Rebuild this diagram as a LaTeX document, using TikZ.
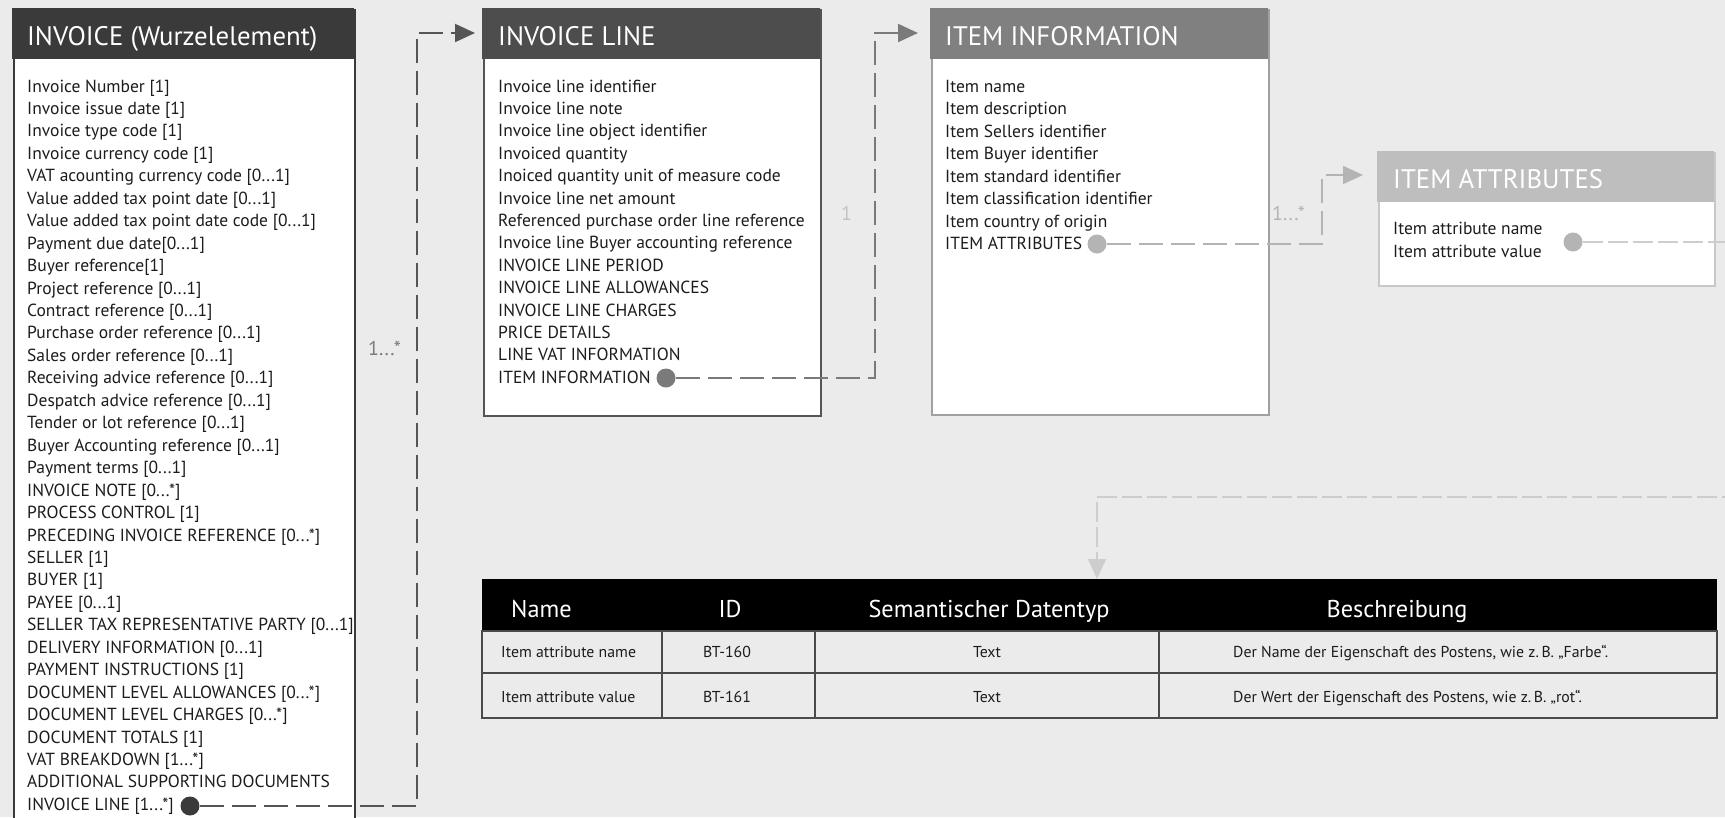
\documentclass[tikz,border=0pt]{standalone}
\usepackage{fontspec}
\setmainfont{PT Sans}
\usetikzlibrary{arrows.meta,calc}

\definecolor{bg}{HTML}{EBEBEB}
\definecolor{txt}{HTML}{1C1C1C}
\definecolor{hdA}{HTML}{3A3A3A}
\definecolor{hdB}{HTML}{4D4D4D}
\definecolor{hdC}{HTML}{808080}
\definecolor{hdD}{HTML}{BEBEBE}
\definecolor{lnA}{HTML}{555555}
\definecolor{lnB}{HTML}{7A7A7A}
\definecolor{lnC}{HTML}{B4B4B4}
\definecolor{lnD}{HTML}{CDCDCD}
\definecolor{grid}{HTML}{4A4A4A}

% three dots for multiplicities inside \foreach lists
\newcommand{\dts}{...}

\tikzset{
  panel/.style={draw, fill=white, line width=2pt, anchor=north west, inner sep=0pt},
  headbar/.style={anchor=north west, inner sep=0pt, minimum height=51pt},
  title/.style={anchor=base west, inner sep=0pt, text=white,
                font=\fontsize{26.8}{27}\selectfont},
  entry/.style={anchor=base west, inner sep=0pt, text=txt,
                font=\fontsize{17.5}{18}\selectfont},
  dot/.style={circle, inner sep=0pt, minimum size=19pt},
  link/.style={dash pattern=on 24pt off 8pt, line width=2pt},
  tip/.style={-{Triangle[length=20pt,width=18pt]}},
  mult/.style={anchor=base west, inner sep=0pt, font=\fontsize{20}{20}\selectfont},
  colhead/.style={anchor=base, inner sep=0pt, text=white,
                  font=\fontsize{24.3}{24}\selectfont},
  cell/.style={anchor=base, inner sep=0pt, text=txt,
               font=\fontsize{15.8}{16}\selectfont},
  grid/.style={draw=grid, line width=1.5pt}
}

\begin{document}
\begin{tikzpicture}[x=1pt,y=-1pt]
\useasboundingbox (0,0) rectangle (1725,817);
\clip (0,0) rectangle (1725,817);
\fill[bg] (0,0) rectangle (1725,817);

% ---------- INVOICE (root) ----------
\node[panel, draw=hdA, minimum width=341pt, minimum height=840pt] (inv) at (13,9) {};
\node[headbar, fill=hdA, minimum width=342pt] (invh) at (12,8) {};
\node[title] (invt) at (27,45) {INVOICE (Wurzelelement)};
\foreach \t [count=\i from 0] in {
  Invoice Number [1], Invoice issue date [1], Invoice type code [1],
  Invoice currency code [1], VAT acounting currency code [0\dts1],
  Value added tax point date [0\dts1], Value added tax point date code [0\dts1],
  Payment due date[0\dts1], Buyer reference[1], Project reference [0\dts1],
  Contract reference [0\dts1], Purchase order reference [0\dts1],
  Sales order reference [0\dts1], Receiving advice reference [0\dts1],
  Despatch advice reference [0\dts1], Tender or lot reference [0\dts1],
  Buyer Accounting reference [0\dts1], Payment terms [0\dts1],
  INVOICE NOTE [0\dts*], PROCESS CONTROL [1],
  PRECEDING INVOICE REFERENCE [0\dts*], SELLER [1], BUYER [1], PAYEE [0\dts1],
  SELLER TAX REPRESENTATIVE PARTY [0\dts1], DELIVERY INFORMATION [0\dts1],
  PAYMENT INSTRUCTIONS [1], DOCUMENT LEVEL ALLOWANCES [0\dts*],
  DOCUMENT LEVEL CHARGES [0\dts*], DOCUMENT TOTALS [1], VAT BREAKDOWN [1\dts*],
  ADDITIONAL SUPPORTING DOCUMENTS, INVOICE LINE [1\dts*]}
  \node[entry] (inv-\i) at (27,92+22.45*\i) {\t};
\node[dot, fill=hdA] (invdot) at (190,806) {};

% ---------- INVOICE LINE ----------
\node[panel, draw=lnA, minimum width=337pt, minimum height=406pt] (il) at (483,9) {};
\node[headbar, fill=hdB, minimum width=338pt] (ilh) at (482,8) {};
\node[title] (ilt) at (498,45) {INVOICE LINE};
\foreach \t [count=\i from 0] in {
  Invoice line identifier, Invoice line note, Invoice line object identifier,
  Invoiced quantity, Inoiced quantity unit of measure code,
  Invoice line net amount, Referenced purchase order line reference,
  Invoice line Buyer accounting reference, INVOICE LINE PERIOD,
  INVOICE LINE ALLOWANCES, INVOICE LINE CHARGES, PRICE DETAILS,
  LINE VAT INFORMATION, ITEM INFORMATION}
  \node[entry] (il-\i) at (498,92+22.4*\i) {\t};
\node[dot, fill=lnB] (ildot) at (666,378) {};

% ---------- ITEM INFORMATION ----------
\node[panel, draw=hdC!75!white, minimum width=337pt, minimum height=405pt] (ii) at (931,9) {};
\node[headbar, fill=hdC, minimum width=338pt] (iih) at (930,8) {};
\node[title] (iit) at (945,45) {ITEM INFORMATION};
\foreach \t [count=\i from 0] in {
  Item name, Item description, Item Sellers identifier, Item Buyer identifier,
  Item standard identifier, Item classification identifier,
  Item country of origin, ITEM ATTRIBUTES}
  \node[entry] (ii-\i) at (945,92+22.5*\i) {\t};
\node[dot, fill=lnC] (iidot) at (1097,244) {};

% ---------- ITEM ATTRIBUTES ----------
\node[panel, draw=hdD!85!white, minimum width=336pt, minimum height=133pt] (ia) at (1378,152) {};
\node[headbar, fill=hdD, minimum width=337pt] (iah) at (1377,151) {};
\node[title] (iat) at (1393,188) {ITEM ATTRIBUTES};
\node[entry] (ia-0) at (1393,234) {Item attribute name};
\node[entry] (ia-1) at (1393,257) {Item attribute value};
\node[dot, fill=lnC] (iadot) at (1573,242) {};

% ---------- connectors ----------
\draw[link, draw=lnA, tip, color=lnA, shorten >=8pt]
  (invdot.east) -| (417,33) -- (il.west |- 0,33);
\node[mult, text=lnB] (m1) at (368,355) {1...*};

\draw[link, draw=lnB, tip, color=lnB, shorten >=13pt]
  (ildot.east) -| (875,33) -- (ii.west |- 0,33);
\node[mult, text=lnC!80!white] (m2) at (841,220) {1};

\draw[link, draw=lnC, tip, color=lnC, line width=1.8pt, shorten >=15pt]
  (iidot.east) -| (1322,175) -- (ia.west |- 0,175);
\node[mult, text=lnC] (m3) at (1272,220) {1...*};

% ---------- attribute table ----------
\node[anchor=north west, inner sep=0pt, fill=black,
      minimum width=1235pt, minimum height=52pt] (th) at (482,579) {};
\draw[grid] (482,631) rectangle (1717,718);
\draw[grid] (482,673) -- (1717,673);
\draw[grid] (662,631) -- (662,718);
\draw[grid] (815,631) -- (815,718);
\draw[grid] (1159,631) -- (1159,718);

\node[colhead, anchor=base west] (hName) at (511,617) {Name};
\node[colhead] (hID) at (730,617) {ID};
\node[colhead] (hType) at (989,617) {Semantischer Datentyp};
\node[colhead] (hDesc) at (1397,617) {Beschreibung};

\node[cell, anchor=base west] (c11) at (501,657) {Item attribute name};
\node[cell] (c12) at (727,657) {BT-160};
\node[cell] (c13) at (987,657) {Text};
\node[cell, anchor=base west] (c14) at (1233,657) {Der Name der Eigenschaft des Postens, wie z.\,B. „Farbe“.};
\node[cell, anchor=base west] (c21) at (501,702) {Item attribute value};
\node[cell] (c22) at (727,702) {BT-161};
\node[cell] (c23) at (987,702) {Text};
\node[cell, anchor=base west] (c24) at (1233,702) {Der Wert der Eigenschaft des Postens, wie z.\,B. „rot“.};

\draw[link, draw=lnD, tip, color=lnD, line width=1.5pt, dash pattern=on 20pt off 5pt]
  (iadot.east) -- (1760,242) -- (1760,497) -| (th.north -| 1097,0);
\end{tikzpicture}
\end{document}
